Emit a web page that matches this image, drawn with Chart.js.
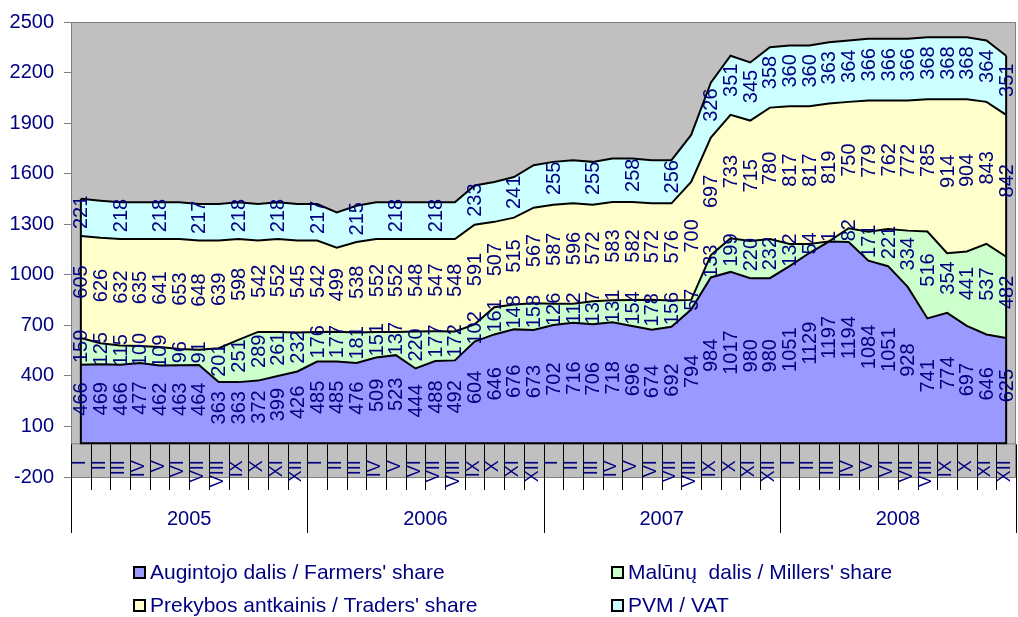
<!DOCTYPE html>
<html>
<head>
<meta charset="utf-8">
<script src="https://cdn.jsdelivr.net/npm/chart.js@4/dist/chart.umd.min.js"></script>
<style>
  html, body { margin: 0; padding: 0; background: #fff; }
  #wrap { position: relative; width: 1018px; height: 617px; overflow: hidden; }
  #chart { position: absolute; left: 0; top: 0; }
  .legend-item {
    position: absolute; display: flex; align-items: center; height: 22px;
    font: 21px "Liberation Sans", Arial, sans-serif; color: #000080; line-height: 22px;
  }
  .legend-item span.txt { white-space: pre; }
  .legend-box { width: 9px; height: 9px; border: 2px solid #000; margin-right: 4px; flex: none; }
</style>
</head>
<body>
<div id="wrap">
  <canvas id="chart" width="1018" height="617"></canvas>
  <div id="legend"></div>
</div>
<script>
// Grain price structure 2005-2008, stacked by share.
const YEARS = ["2005", "2006", "2007", "2008"];
const MONTHS = ["I", "II", "III", "IV", "V", "VI", "VII", "VIII", "IX", "X", "XI", "XII"];
const Y_TICKS = [-200, 100, 400, 700, 1000, 1300, 1600, 1900, 2200, 2500];

const SERIES_NAMES = [
  "Augintojo dalis / Farmers' share",
  "Malūnų  dalis / Millers' share",
  "Prekybos antkainis / Traders' share",
  "PVM / VAT",
];

const FARMERS = [
  466, 469, 466, 477, 462, 463, 464, 363, 363, 372, 399, 426,
  485, 485, 476, 509, 523, 444, 488, 492, 604, 646, 676, 673,
  702, 716, 706, 718, 696, 674, 692, 794, 984, 1017, 980, 980,
  1051, 1129, 1197, 1194, 1084, 1051, 928, 741, 774, 697, 646, 625,
];
const MILLERS = [
  159, 125, 115, 100, 109, 96, 91, 201, 251, 289, 261, 232,
  176, 177, 181, 151, 137, 220, 177, 172, 102, 161, 148, 158,
  126, 112, 137, 131, 154, 178, 156, 57, 133, 199, 220, 232,
  132, 54, 1, 82, 171, 221, 334, 516, 354, 441, 537, 482,
];
const TRADERS = [
  605, 626, 632, 635, 641, 653, 648, 639, 598, 542, 552, 545,
  542, 499, 538, 552, 552, 548, 547, 548, 591, 507, 515, 567,
  587, 596, 572, 583, 582, 572, 576, 700, 697, 733, 715, 780,
  817, 817, 819, 750, 779, 762, 772, 785, 914, 904, 843, 842,
];
// even months before Sep 2007 carry no label in the picture; those are estimates
const VAT = [
  221, 220, 218, 218, 218, 218, 217, 217, 218, 217, 218, 217,
  217, 209, 215, 218, 218, 218, 218, 218, 233, 237, 241, 252,
  255, 256, 255, 258, 258, 256, 256, 279, 326, 351, 345, 358,
  360, 360, 363, 364, 366, 366, 366, 368, 368, 368, 364, 351,
];

const COLORS = ["#9999ff", "#ccffcc", "#ffffcc", "#ccffff"];
const NAVY = "#000080";
const FONT = '"Liberation Sans", Arial, sans-serif';

const labels = YEARS.flatMap(() => MONTHS);
const seriesData = [FARMERS, MILLERS, TRADERS, VAT];

function vatLabelShown(i) {
  return i % 2 === 0 || i >= 32;
}

// ---------------------------------------------------------------------------
// Plugins
// ---------------------------------------------------------------------------
const plotBackground = {
  id: "plotBackground",
  beforeDraw(chart) {
    const { ctx, chartArea: a } = chart;
    ctx.save();
    ctx.fillStyle = "#c0c0c0";
    ctx.fillRect(a.left, a.top, a.right - a.left, a.bottom - a.top);
    ctx.restore();
  },
  afterDraw(chart) {
    const { ctx, chartArea: a } = chart;
    ctx.save();
    ctx.strokeStyle = "#808080";
    ctx.lineWidth = 1;
    ctx.strokeRect(a.left + 0.5, a.top + 0.5, a.right - a.left - 1, a.bottom - a.top);
    ctx.restore();
  },
};

// the stack outline: bottom edge on zero and the two side edges
const stackOutline = {
  id: "stackOutline",
  afterDatasetsDraw(chart) {
    const { ctx, scales: { x, y } } = chart;
    const n = labels.length;
    const total = (i) => seriesData.reduce((s, d) => s + d[i], 0);
    const x0 = x.getPixelForValue(0);
    const x1 = x.getPixelForValue(n - 1);
    const yZero = y.getPixelForValue(0);
    ctx.save();
    ctx.strokeStyle = "#808080";
    ctx.lineWidth = 1;
    ctx.beginPath();
    ctx.moveTo(chart.chartArea.left, yZero + 0.5);
    ctx.lineTo(chart.chartArea.right, yZero + 0.5);
    ctx.stroke();
    ctx.strokeStyle = "#000";
    ctx.lineWidth = 2;
    ctx.beginPath();
    ctx.moveTo(x0, y.getPixelForValue(total(0)));
    ctx.lineTo(x0, yZero);
    ctx.lineTo(x1, yZero);
    ctx.lineTo(x1, y.getPixelForValue(total(n - 1)));
    ctx.stroke();
    ctx.restore();
  },
};

// value labels, rotated, centred (a bit high, like the original) in each band
const bandLabels = {
  id: "bandLabels",
  afterDatasetsDraw(chart) {
    const { ctx, scales: { x, y } } = chart;
    ctx.save();
    ctx.font = `20px ${FONT}`;
    ctx.fillStyle = NAVY;
    ctx.textAlign = "center";
    ctx.textBaseline = "middle";
    labels.forEach((_, i) => {
      let base = 0;
      seriesData.forEach((data, di) => {
        const v = data[i];
        const mid = base + v / 2;
        base += v;
        if (di === 3 && !vatLabelShown(i)) return;
        ctx.save();
        ctx.translate(x.getPixelForValue(i) + 1, y.getPixelForValue(mid) - 5);
        ctx.rotate(-Math.PI / 2);
        ctx.fillText(String(v), 0, 0);
        ctx.restore();
      });
    });
    ctx.restore();
  },
};

// two-level category axis: months under the zero line, years below the plot
const monthYearAxis = {
  id: "monthYearAxis",
  afterDraw(chart) {
    const { ctx, chartArea: a, scales: { x, y } } = chart;
    const n = labels.length;
    const w = (a.right - a.left) / n;
    const yZero = y.getPixelForValue(0);
    ctx.save();
    ctx.strokeStyle = "#000";
    ctx.lineWidth = 1;
    for (let i = 0; i <= n; i++) {
      const px = Math.round(a.left + i * w) + 0.5;
      const bottom = i % MONTHS.length === 0 ? 533 : 490;
      ctx.beginPath();
      ctx.moveTo(px, yZero + 1);
      ctx.lineTo(px, bottom);
      ctx.stroke();
    }
    ctx.fillStyle = NAVY;
    ctx.font = `18px ${FONT}`;
    ctx.textAlign = "right";
    ctx.textBaseline = "middle";
    labels.forEach((m, i) => {
      ctx.save();
      ctx.translate(x.getPixelForValue(i) - 1, yZero + 17);
      ctx.rotate(-Math.PI / 2);
      ctx.fillText(m, 0, 0);
      ctx.restore();
    });
    ctx.font = `20px ${FONT}`;
    ctx.textAlign = "center";
    YEARS.forEach((yr, k) => {
      const cx = a.left + (k + 0.5) * MONTHS.length * w;
      ctx.fillText(yr, cx, 519);
    });
    ctx.restore();
  },
};

// ---------------------------------------------------------------------------
// Chart
// ---------------------------------------------------------------------------
const chart = new Chart(document.getElementById("chart"), {
  type: "line",
  data: {
    labels,
    datasets: seriesData.map((data, i) => ({
      label: SERIES_NAMES[i],
      data,
      backgroundColor: COLORS[i],
      borderColor: "#000",
      borderWidth: 2,
      pointRadius: 0,
      tension: 0,
      fill: i === 0 ? "origin" : "-1",
    })),
  },
  options: {
    responsive: false,
    animation: false,
    layout: { padding: { top: 17, right: 2, bottom: 140, left: 0 } },
    plugins: { legend: { display: false }, tooltip: { enabled: false } },
    scales: {
      x: { type: "category", display: false, offset: true },
      y: {
        stacked: true,
        min: -200,
        max: 2500,
        afterBuildTicks: (s) => { s.ticks = Y_TICKS.map((v) => ({ value: v })); },
        afterFit: (s) => { s.width = 71; },
        grid: { drawOnChartArea: false, drawTicks: true, tickLength: 7, color: "#808080" },
        border: { display: true, color: "#808080" },
        ticks: {
          color: NAVY,
          font: { family: FONT, size: 20 },
          padding: 10,
          callback: (v) => String(v),
        },
      },
    },
  },
  plugins: [plotBackground, stackOutline, bandLabels, monthYearAxis],
});

// ---------------------------------------------------------------------------
// Legend (2 x 2 grid)
// ---------------------------------------------------------------------------
const LEGEND_X = [133, 611];
const LEGEND_Y = [572, 605];
document.getElementById("legend").innerHTML = chart.data.datasets
  .map((ds, i) =>
    `<div class="legend-item" style="left:${LEGEND_X[i % 2]}px;top:${LEGEND_Y[Math.floor(i / 2)] - 11}px">` +
    `<span class="legend-box" style="background:${ds.backgroundColor}"></span>` +
    `<span class="txt">${ds.label}</span></div>`)
  .join("");
</script>
</body>
</html>
